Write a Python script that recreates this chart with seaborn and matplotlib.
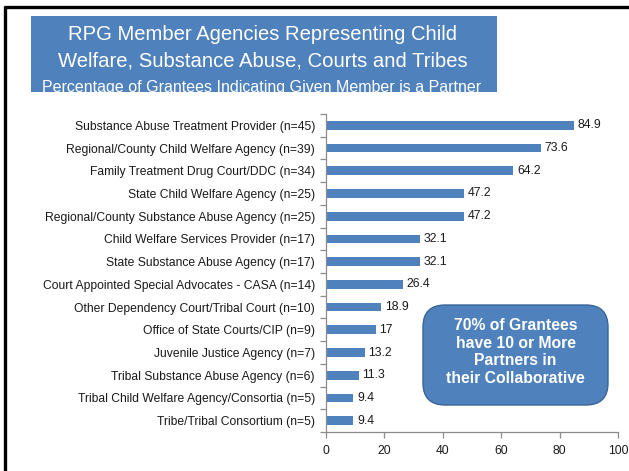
import matplotlib
matplotlib.use("Agg")
import matplotlib.pyplot as plt
import seaborn as sns
import pandas as pd
from matplotlib.patches import FancyBboxPatch, Rectangle
from matplotlib.lines import Line2D
from matplotlib.ticker import FixedLocator

# Partner agencies and the share of grantees naming each one
agencies = [
    "Substance Abuse Treatment Provider (n=45)",
    "Regional/County Child Welfare Agency (n=39)",
    "Family Treatment Drug Court/DDC (n=34)",
    "State Child Welfare Agency (n=25)",
    "Regional/County Substance Abuse Agency (n=25)",
    "Child Welfare Services Provider (n=17)",
    "State Substance Abuse Agency (n=17)",
    "Court Appointed Special Advocates - CASA (n=14)",
    "Other Dependency Court/Tribal Court (n=10)",
    "Office of State Courts/CIP (n=9)",
    "Juvenile Justice Agency (n=7)",
    "Tribal Substance Abuse Agency (n=6)",
    "Tribal Child Welfare Agency/Consortia (n=5)",
    "Tribe/Tribal Consortium (n=5)",
]
percents = [84.9, 73.6, 64.2, 47.2, 47.2, 32.1, 32.1, 26.4, 18.9, 17, 13.2, 11.3, 9.4, 9.4]
x_ticks = [0, 20, 40, 60, 80, 100]

title_lines = [
    "RPG Member Agencies Representing Child",
    "Welfare, Substance Abuse, Courts and Tribes",
]
subtitle = "Percentage of Grantees Indicating Given Member is a Partner"
callout = "70% of Grantees\nhave 10 or More\nPartners in\ntheir Collaborative"

BLUE = "#4F81BD"
AXIS_GREY = "#8C8C8C"
TEXT = "#1A1A1A"

sns.set_theme(style="white")
plt.rcParams["font.family"] = ["Liberation Sans", "DejaVu Sans"]

W, H = 629, 471
fig = plt.figure(figsize=(W / 100, H / 100), dpi=100)
fig.patch.set_facecolor("white")

def fx(px):
    return px / W

def fy(py):
    return 1 - py / H

ax = fig.add_axes([fx(326), fy(432), fx(618) - fx(326), fy(114) - fy(432)])

df = pd.DataFrame({"agency": agencies, "pct": percents})
sns.barplot(data=df, y="agency", x="pct", orient="h", color=BLUE,
            saturation=1, width=0.38, ax=ax, edgecolor="none")

ax.set_xlim(0, 100)
ax.set_ylim(len(agencies) - 0.5, -0.5)
ax.set_xlabel("")
ax.set_ylabel("")
ax.xaxis.set_major_locator(FixedLocator(x_ticks))
ax.set_xticklabels([str(t) for t in x_ticks])

for side in ("top", "right"):
    ax.spines[side].set_visible(False)
for side in ("left", "bottom"):
    ax.spines[side].set_color(AXIS_GREY)
    ax.spines[side].set_linewidth(0.9)

ax.tick_params(axis="x", which="major", bottom=True, length=4, width=0.9,
               color=AXIS_GREY, labelsize=8.8, labelcolor=TEXT, pad=5)
ax.tick_params(axis="y", which="major", left=False, length=0, labelsize=8.75,
               labelcolor=TEXT, pad=8)
ax.yaxis.set_minor_locator(FixedLocator([i - 0.5 for i in range(len(agencies) + 1)]))
ax.tick_params(axis="y", which="minor", left=True, length=4, width=0.9,
               color=AXIS_GREY)

for i, v in enumerate(percents):
    ax.text(v + 1.2, i, f"{v:g}", va="center", ha="left",
            fontsize=8.8, color=TEXT)

# Title banner
banner = Rectangle((fx(31), fy(92)), fx(497) - fx(31), fy(16) - fy(92),
                   transform=fig.transFigure, facecolor=BLUE,
                   edgecolor="none", zorder=1)
fig.add_artist(banner)
fig.text(fx(263), fy(34), title_lines[0], ha="center", va="center",
         fontsize=14.6, color="white", zorder=2)
fig.text(fx(263), fy(61), title_lines[1], ha="center", va="center",
         fontsize=14.6, color="white", zorder=2)
sub = fig.text(fx(262), fy(91.5), subtitle, ha="center", va="baseline",
               fontsize=11.5, color="white", zorder=2)
sub.set_clip_path(banner)

# Callout box
box = FancyBboxPatch((fx(423), fy(405)), fx(608) - fx(423), fy(305) - fy(405),
                     boxstyle="round,pad=0,rounding_size=0.035",
                     transform=fig.transFigure, facecolor=BLUE,
                     edgecolor="#3A6596", linewidth=1.0, zorder=3,
                     mutation_aspect=W / H)
fig.add_artist(box)
fig.text(fx(515.5), fy(352), callout, ha="center", va="center",
         fontsize=11.3, fontweight="bold", color="white",
         linespacing=1.2, zorder=4)

# Slide frame on the left and top edges
fig.add_artist(Line2D([fx(5), fx(5)], [fy(6), 0], transform=fig.transFigure,
                      color="black", linewidth=2.4, solid_capstyle="butt"))
fig.add_artist(Line2D([fx(4), 1], [fy(7), fy(7)], transform=fig.transFigure,
                      color="black", linewidth=2.4, solid_capstyle="butt"))

fig.savefig("out.png", dpi=100, facecolor="white")
